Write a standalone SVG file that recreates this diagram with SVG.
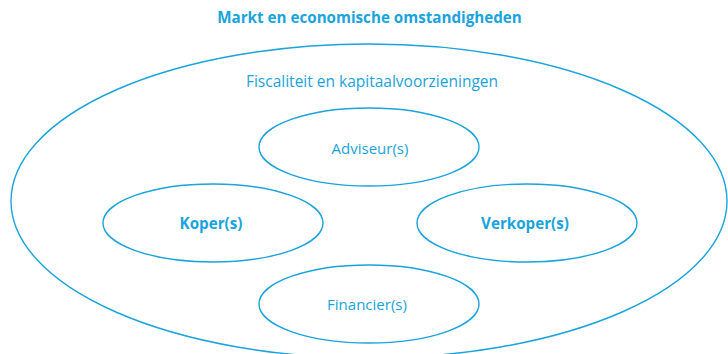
<svg xmlns="http://www.w3.org/2000/svg" width="728" height="354" viewBox="0 0 728 354">
  <style>
    .ring { fill: none; stroke: #1aa3dc; stroke-width: 1.4; }
    .lbl { font-family: "Open Sans", "Noto Sans", "Liberation Sans", sans-serif; fill: #1aa3dc; text-anchor: middle; }
    .light { font-size: 15px; font-weight: 400; }
    .bold { font-size: 15.2px; font-weight: 700; }
  </style>
  <rect width="728" height="354" fill="#ffffff"/>

  <text class="lbl bold" x="369.5" y="23">Markt en economische omstandigheden</text>

  <g id="fiscaliteit">
    <ellipse class="ring" cx="369" cy="201" rx="358" ry="157"/>
    <text class="lbl light" x="372" y="87" style="font-size:15.5px">Fiscaliteit en kapitaalvoorzieningen</text>
  </g>

  <g id="adviseur">
    <ellipse class="ring" cx="369" cy="147" rx="110" ry="39"/>
    <text class="lbl light" x="370" y="154">Adviseur(s)</text>
  </g>

  <g id="koper">
    <ellipse class="ring" cx="213" cy="223" rx="110" ry="39"/>
    <text class="lbl bold" x="211" y="229">Koper(s)</text>
  </g>

  <g id="verkoper">
    <ellipse class="ring" cx="527" cy="223" rx="110" ry="39"/>
    <text class="lbl bold" x="525" y="229">Verkoper(s)</text>
  </g>

  <g id="financier">
    <ellipse class="ring" cx="369" cy="304" rx="110" ry="39"/>
    <text class="lbl light" x="367" y="310">Financier(s)</text>
  </g>

  <g id="connectors"></g>
</svg>
